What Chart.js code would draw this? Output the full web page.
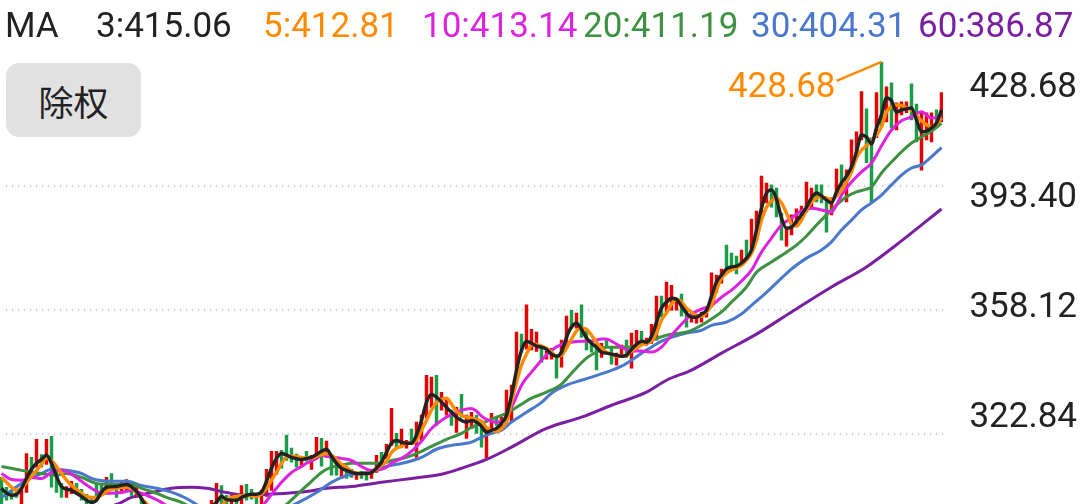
<!DOCTYPE html>
<html>
<head>
<meta charset="utf-8">
<script src="https://cdn.jsdelivr.net/npm/chart.js@4.4.0/dist/chart.umd.min.js"></script>
<style>
  html, body { margin: 0; padding: 0; background: #fff; }
  #wrap { position: relative; width: 1080px; height: 504px; overflow: hidden; }
  #kline { position: absolute; left: 0; top: 0; }
  .ma { position: absolute; top: 6px; font: 35px Roboto, sans-serif; line-height: 40px; white-space: nowrap; }
  #btn { position: absolute; left: 6px; top: 63px; width: 135px; height: 74px; border-radius: 13px;
         background: #e1e1e1; color: #222; font: 35px "Noto Sans CJK SC", sans-serif;
         display: flex; align-items: center; justify-content: center; }
</style>
</head>
<body>
<div id="wrap">
  <canvas id="kline" width="1080" height="504"></canvas>
  <div id="header"></div>
  <div id="btn">除权</div>
</div>
<script>
// Partie données : bougies (ouverture / clôture), une par séance
const openP = [
  310.6, 307.8, 306.9, 306.3, 302.4, 306.3, 316.3, 313.5, 317.1, 314.3,
  322.3, 312.6, 308.9, 304.9, 306.0, 308.9, 307.2, 305.8, 304.9, 308.6,
  308.9, 306.9, 311.7, 308.0, 306.3, 306.6, 309.2, 304.9, 305.0, 301.5,
  297.0, 299.0, 297.0, 294.5, 296.0, 298.5, 296.0, 298.5, 300.5, 298.0,
  300.5, 302.0, 302.4, 302.4, 308.3, 305.5, 302.4, 305.5, 302.4, 308.6,
  307.2, 305.5, 302.4, 305.2, 306.9, 311.5, 318.3, 322.6, 318.9, 317.2,
  314.0, 318.0, 312.9, 316.3, 321.7, 316.3, 316.3, 314.6, 310.3, 312.6,
  312.9, 310.0, 312.3, 311.7, 310.3, 312.0, 317.7, 316.0, 319.7, 323.1,
  319.2, 318.9, 324.3, 316.3, 321.1, 327.4, 330.5, 339.6, 329.7, 328.3,
  329.7, 323.4, 334.2, 321.7, 324.5, 328.3, 324.8, 316.0, 324.3, 327.7,
  324.0, 326.0, 326.3, 341.1, 351.3, 347.0, 346.8, 346.4, 347.9, 344.2,
  344.2, 344.8, 341.9, 347.9, 358.1, 353.0, 359.6, 352.7, 349.6, 348.7,
  344.7, 349.6, 347.3, 342.5, 345.3, 349.6, 341.6, 346.8, 352.1, 348.2,
  348.7, 349.6, 362.1, 357.6, 358.1, 358.1, 362.7, 358.7, 354.7, 354.4,
  354.7, 356.1, 359.0, 363.2, 365.8, 376.6, 374.3, 373.5, 370.9, 378.0,
  374.3, 378.0, 385.2, 388.6, 393.7, 392.8, 385.7, 376.3, 379.5, 382.3,
  384.0, 386.0, 387.1, 393.7, 393.7, 388.9, 385.2, 390.8, 399.4, 388.9,
  397.4, 401.4, 406.5, 415.3, 407.1, 407.1, 428.68, 411.6, 422.7, 409.3,
  413.6, 414.2, 422.4, 416.7, 397.9, 406.5, 405.9, 415.0, 411.6
];
const closeP = [
  302.4, 304.1, 304.4, 304.9, 307.8, 317.4, 311.2, 321.4, 313.5, 321.4,
  307.8, 306.3, 304.9, 308.0, 309.5, 306.3, 304.1, 302.4, 300.6, 304.6,
  305.8, 310.6, 307.8, 304.9, 309.2, 310.0, 305.5, 307.8, 301.0, 298.0,
  299.5, 296.5, 295.0, 297.0, 298.5, 296.0, 299.0, 300.5, 298.0, 301.0,
  302.0, 300.0, 304.1, 308.9, 302.4, 302.4, 305.5, 302.4, 308.3, 304.1,
  304.4, 302.4, 306.9, 312.9, 318.0, 318.0, 313.2, 315.4, 314.9, 313.5,
  316.0, 315.2, 316.9, 322.0, 313.8, 320.9, 311.2, 311.2, 313.2, 310.3,
  310.6, 312.0, 310.3, 309.8, 312.6, 316.9, 314.6, 320.0, 330.2, 318.9,
  324.3, 321.1, 320.3, 326.3, 328.3, 339.6, 339.1, 325.4, 334.8, 332.5,
  325.4, 330.5, 327.7, 328.3, 329.1, 323.1, 319.2, 324.3, 328.8, 325.4,
  327.7, 335.4, 336.8, 351.9, 346.2, 359.6, 352.7, 351.9, 343.3, 346.5,
  347.3, 338.8, 349.6, 356.4, 353.0, 357.3, 350.4, 346.8, 346.2, 341.1,
  348.7, 347.6, 342.8, 345.9, 348.2, 344.7, 351.6, 352.4, 348.2, 350.2,
  354.1, 362.1, 356.1, 366.1, 365.2, 361.5, 356.4, 353.3, 357.3, 357.0,
  357.6, 359.0, 368.7, 368.1, 369.8, 369.5, 369.5, 368.4, 375.2, 372.9,
  384.0, 386.3, 396.2, 394.2, 387.4, 384.6, 378.0, 381.7, 385.2, 386.9,
  387.7, 394.5, 392.8, 388.9, 388.6, 380.3, 390.0, 398.2, 393.1, 398.0,
  406.5, 408.8, 420.2, 400.0, 388.6, 419.9, 410.2, 421.6, 409.9, 417.0,
  417.3, 417.3, 412.2, 405.9, 414.5, 414.2, 414.2, 410.2, 419.9
];

// Moyennes mobiles : [séance, valeur]
const ma3 = [[0,307.5],[1,306.1],[2,305.5],[3,305.8],[4,307.5],[5,310.3],[6,312.9],[7,314.6],[8,315.7],[9,316.9],[10,314.6],[11,310.9],[12,308.0],[14,306.9],[16,305.2],[18,303.5],[19,304.1],[20,306.4],[21,307.8],[23,308.0],[25,308.6],[27,306.6],[29,302.4],[31,300.0],[34,297.0],[37,298.5],[40,300.5],[42,302.4],[43,303.5],[44,305.2],[45,304.3],[47,304.1],[48,304.9],[50,305.8],[51,305.8],[52,306.4],[53,309.5],[54,313.2],[55,316.0],[56,317.4],[58,316.3],[60,315.7],[61,316.0],[62,316.3],[63,317.1],[64,318.0],[65,318.6],[66,316.6],[67,314.6],[68,313.2],[69,312.6],[71,311.7],[73,311.7],[74,312.0],[75,313.2],[76,314.9],[77,317.7],[78,320.3],[79,321.1],[80,320.6],[81,320.3],[82,320.3],[83,322.6],[84,326.8],[85,332.0],[86,334.2],[87,333.4],[88,332.0],[89,330.5],[90,329.1],[91,327.7],[92,326.8],[93,326.3],[94,326.8],[95,326.3],[96,325.1],[97,323.4],[98,324.0],[99,324.5],[100,326.0],[101,328.2],[102,333.9],[103,341.1],[104,346.7],[105,349.3],[106,348.7],[107,347.9],[108,347.6],[109,347.0],[110,345.6],[111,345.0],[112,346.2],[113,350.4],[114,353.3],[115,354.4],[116,352.7],[117,350.2],[118,348.7],[119,347.6],[120,346.2],[121,345.9],[122,345.6],[123,345.3],[124,345.0],[125,345.3],[126,347.0],[127,348.4],[128,349.3],[129,349.0],[130,350.7],[131,354.7],[132,358.7],[133,360.4],[134,361.5],[135,361.2],[136,359.3],[137,357.3],[138,356.1],[139,356.1],[140,357.0],[141,358.1],[142,362.1],[143,366.1],[144,368.1],[145,369.8],[146,370.4],[147,370.6],[148,371.5],[149,372.9],[150,375.2],[151,380.9],[152,387.1],[153,391.4],[154,392.3],[155,389.7],[156,384.3],[157,381.4],[158,381.7],[159,383.4],[160,385.2],[161,387.4],[162,390.0],[163,391.4],[164,390.6],[165,389.4],[166,388.6],[167,391.7],[168,394.3],[169,396.2],[170,398.8],[171,403.1],[172,407.9],[173,407.3],[174,405.4],[175,409.9],[176,413.6],[177,418.4],[178,417.6],[179,414.4],[180,415.0],[181,415.3],[182,415.6],[183,412.2],[184,408.8],[185,409.0],[186,409.9],[187,411.3],[188,415.06]];
const ma5 = [[0,310.6],[1,309.2],[2,307.8],[3,306.9],[4,307.5],[5,309.2],[6,310.9],[7,312.6],[8,314.3],[9,316.0],[10,315.4],[11,313.7],[12,311.7],[13,309.8],[14,308.3],[15,307.2],[16,306.1],[17,305.2],[18,304.9],[19,304.9],[20,305.5],[21,306.6],[22,307.2],[23,307.5],[24,307.8],[25,307.8],[26,307.5],[27,306.4],[28,304.6],[29,303.2],[30,301.8],[33,298.0],[36,297.5],[39,299.0],[42,300.8],[44,302.4],[45,304.3],[46,304.9],[47,305.2],[49,305.5],[51,305.2],[52,305.8],[53,307.5],[54,309.8],[55,312.0],[56,314.6],[57,316.3],[58,316.6],[60,316.3],[62,316.0],[63,316.6],[64,317.1],[65,317.4],[66,316.9],[67,315.7],[68,314.3],[69,313.5],[70,312.3],[72,311.7],[74,312.0],[75,312.9],[76,314.0],[77,315.2],[78,317.7],[79,318.9],[80,319.4],[81,320.3],[82,320.3],[83,321.1],[84,324.0],[85,326.8],[86,329.7],[87,331.9],[88,332.8],[89,333.1],[90,331.4],[91,329.4],[92,328.3],[93,327.7],[94,327.4],[95,327.1],[96,326.5],[97,324.8],[98,324.0],[99,323.7],[100,324.5],[101,326.3],[102,331.9],[103,337.6],[104,342.5],[105,345.6],[106,348.2],[107,348.4],[108,347.9],[109,347.3],[110,346.2],[111,345.0],[112,345.3],[113,347.3],[114,349.9],[115,352.2],[116,353.0],[117,352.7],[118,351.0],[119,349.0],[120,347.3],[121,346.2],[122,345.6],[123,345.0],[124,345.0],[125,345.3],[126,346.5],[127,347.3],[128,348.2],[129,348.7],[130,349.3],[131,351.6],[132,355.3],[133,357.3],[134,359.8],[135,361.2],[136,360.4],[137,358.7],[138,357.6],[139,356.4],[140,356.4],[141,357.6],[142,359.5],[143,363.8],[144,367.2],[145,368.6],[146,369.5],[147,370.1],[148,370.9],[149,372.3],[150,374.3],[151,378.0],[152,383.7],[153,387.4],[154,389.1],[155,390.0],[156,388.6],[157,385.7],[158,382.6],[159,382.0],[160,383.7],[161,386.6],[162,388.8],[163,390.0],[164,390.3],[165,390.0],[166,389.4],[167,390.6],[168,392.3],[169,394.5],[170,397.4],[171,401.4],[172,403.6],[173,404.8],[174,406.2],[175,407.9],[176,410.2],[177,414.4],[178,415.9],[179,416.4],[180,416.2],[181,415.6],[182,415.0],[183,413.3],[184,411.9],[185,410.8],[186,410.2],[187,411.0],[188,412.81]];
const ma10 = [[0,311.7],[2,310.0],[4,309.8],[6,310.6],[8,310.3],[10,312.0],[12,312.6],[14,311.5],[16,309.5],[18,307.5],[20,306.1],[22,306.1],[24,306.3],[26,306.9],[28,306.1],[30,304.9],[32,303.5],[36,299.5],[40,298.0],[44,298.5],[48,300.5],[51,302.5],[52,302.6],[54,305.8],[56,309.2],[58,312.0],[60,313.7],[61,314.6],[63,316.0],[64,316.9],[66,316.3],[68,316.0],[70,315.4],[72,313.7],[74,312.6],[76,312.9],[77,313.5],[78,314.6],[80,316.0],[82,318.0],[84,320.9],[86,324.5],[88,326.8],[90,328.5],[92,329.7],[94,330.2],[95,329.4],[96,328.0],[97,327.1],[99,326.3],[100,326.5],[101,327.7],[102,330.5],[103,333.6],[104,336.8],[106,340.5],[108,343.9],[110,346.7],[112,348.4],[114,349.0],[116,349.3],[118,349.3],[120,349.9],[121,349.9],[122,349.3],[124,347.6],[126,346.5],[128,346.5],[130,346.2],[132,347.6],[134,351.0],[136,354.1],[138,357.0],[140,358.4],[142,359.5],[144,361.8],[146,363.8],[148,366.4],[150,369.5],[152,374.6],[154,378.6],[156,382.3],[158,384.3],[160,386.3],[162,387.1],[164,386.6],[166,386.0],[167,388.0],[168,390.8],[170,394.5],[172,397.4],[174,399.9],[175,402.2],[176,404.8],[178,409.3],[180,411.9],[182,413.0],[184,414.5],[186,412.7],[188,413.14]];
const ma20 = [[0,313.7],[4,312.6],[8,311.7],[11,311.2],[13,311.7],[16,310.6],[19,308.9],[22,308.6],[26,308.6],[28,307.5],[31,306.1],[33,304.9],[36,303.5],[40,300.5],[45,298.5],[50,298.0],[54,300.0],[57,302.9],[60,306.9],[62,309.5],[64,312.0],[66,313.5],[68,314.0],[70,314.6],[73,314.6],[76,314.6],[78,315.4],[81,316.3],[84,318.0],[86,319.4],[89,321.4],[92,323.1],[94,324.8],[97,326.5],[99,327.7],[101,328.8],[104,331.4],[106,333.1],[109,334.8],[112,337.1],[114,340.2],[117,344.5],[119,346.2],[121,347.6],[124,347.6],[126,347.6],[128,348.7],[130,349.6],[133,351.0],[136,351.6],[138,352.4],[141,354.7],[144,357.6],[146,360.4],[149,364.7],[151,368.9],[154,371.8],[157,374.6],[159,376.6],[161,379.2],[163,382.3],[165,385.2],[167,388.0],[169,390.3],[171,391.7],[173,392.5],[174,393.1],[176,397.1],[178,400.2],[180,403.1],[182,405.6],[184,407.3],[186,409.0],[188,411.19]];
const ma30 = [[0,304.9],[2,306.9],[5,309.8],[8,311.7],[10,312.9],[13,312.6],[16,311.7],[18,310.3],[22,309.5],[25,309.5],[28,308.3],[31,307.5],[34,306.4],[37,304.6],[39,302.9],[43,300.0],[48,298.5],[53,299.5],[56,301.5],[59,303.2],[63,306.3],[66,309.2],[70,311.5],[72,311.7],[77,313.7],[81,314.9],[84,316.3],[87,318.6],[90,319.7],[94,320.6],[96,322.0],[98,323.1],[100,324.0],[102,326.3],[105,329.1],[108,331.9],[110,334.5],[113,336.8],[116,338.2],[118,339.1],[121,340.5],[124,342.2],[126,343.9],[128,345.9],[130,347.6],[132,349.3],[134,350.4],[137,351.6],[140,352.4],[142,353.8],[145,354.7],[148,357.0],[150,359.5],[153,363.2],[156,367.2],[158,369.8],[161,372.9],[164,375.2],[166,377.5],[168,380.9],[170,383.7],[172,386.6],[174,388.6],[176,390.8],[178,393.7],[180,396.5],[182,398.5],[184,399.4],[186,401.7],[188,404.31]];
const ma60 = [[0,296.0],[8,298.0],[16,300.5],[23,302.9],[26,304.9],[30,306.3],[34,307.5],[38,307.8],[41,307.5],[45,306.3],[49,305.5],[53,305.8],[57,306.1],[61,306.6],[65,307.5],[70,308.0],[76,309.2],[82,310.3],[88,311.5],[92,313.2],[97,315.7],[102,319.2],[109,324.5],[116,327.7],[122,331.1],[129,334.8],[133,338.2],[138,341.1],[144,345.9],[151,351.3],[158,357.6],[166,364.7],[173,370.4],[180,377.8],[188,386.87]];

// Axe des prix
const priceTicks = [428.68, 393.40, 358.12, 322.84];
const priceMin = 303.04;

// Séries MA : période, données, couleur
const maSeries = [
  { period: 3,  data: ma3,  color: "#222222" },
  { period: 5,  data: ma5,  color: "#ff8a00" },
  { period: 10, data: ma10, color: "#dd22e0" },
  { period: 20, data: ma20, color: "#3d9140" },
  { period: 30, data: ma30, color: "#4a78cc" },
  { period: 60, data: ma60, color: "#7b1fa2" }
];

// Partie en-tête (texte HTML)
const headerLeft = [96, 263, 422, 583, 751, 918];
const header = document.getElementById("header");
const maLabel = document.createElement("span");
maLabel.className = "ma";
maLabel.style.left = "5px";
maLabel.style.color = "#222";
maLabel.textContent = "MA";
header.appendChild(maLabel);
maSeries.forEach((s, i) => {
  const span = document.createElement("span");
  span.className = "ma";
  span.style.left = headerLeft[i] + "px";
  span.style.color = s.color;
  span.textContent = s.period + ":" + s.data[s.data.length - 1][1].toFixed(2);
  header.appendChild(span);
});

// Plugin : grille pointillée, étiquettes de prix, repère du plus haut
const priceAxisPlugin = {
  id: "priceAxis",
  beforeDatasetsDraw(chart) {
    const { ctx, chartArea, scales } = chart;
    ctx.save();
    ctx.strokeStyle = "#d2d2d2";
    ctx.lineWidth = 2.5;
    ctx.setLineDash([1.2, 4.8]);
    priceTicks.slice(1).forEach(v => {
      const py = Math.round(scales.y.getPixelForValue(v));
      ctx.beginPath();
      ctx.moveTo(chartArea.left + 6, py);
      ctx.lineTo(chartArea.right, py);
      ctx.stroke();
    });
    ctx.restore();
  },
  afterDraw(chart) {
    const { ctx, scales } = chart;
    const shift = [35, 21, 7, -7];
    ctx.save();
    ctx.font = "35px Roboto";
    ctx.fillStyle = "#222";
    ctx.textAlign = "right";
    ctx.textBaseline = "alphabetic";
    priceTicks.forEach((v, i) => {
      ctx.fillText(v.toFixed(2), 1077, scales.y.getPixelForValue(v) + shift[i]);
    });

    // plus haut
    let hiIdx = 0;
    openP.forEach((o, i) => {
      if (Math.max(o, closeP[i]) > Math.max(openP[hiIdx], closeP[hiIdx])) hiIdx = i;
    });
    const hiVal = Math.max(openP[hiIdx], closeP[hiIdx]);
    const px = scales.x.getPixelForValue(hiIdx);
    const py = scales.y.getPixelForValue(hiVal);
    ctx.strokeStyle = "#ff8a00";
    ctx.lineWidth = 2.5;
    ctx.beginPath();
    ctx.moveTo(px - 45, py + 19);
    ctx.lineTo(px, py);
    ctx.stroke();
    ctx.fillStyle = "#ff8a00";
    ctx.fillText(hiVal.toFixed(2), px - 46, py + 35);
    ctx.restore();
  }
};

const candles = openP.map((o, i) => ({ x: i, y: [o, closeP[i]] }));
const candleColors = openP.map((o, i) => closeP[i] >= o ? "#e60000" : "#1a9c48");

const datasets = [{
  type: "bar",
  data: candles,
  backgroundColor: candleColors,
  barThickness: 2.8,
  minBarLength: 2,
  order: 10
}];
maSeries.slice().reverse().forEach((s, i) => {
  datasets.push({
    type: "line",
    data: s.data.map(p => ({ x: p[0], y: p[1] })),
    borderColor: s.color,
    borderWidth: s.period <= 5 ? 3.4 : 3,
    pointRadius: 0,
    cubicInterpolationMode: "monotone",
    order: 6 - i
  });
});

new Chart(document.getElementById("kline").getContext("2d"), {
  type: "bar",
  data: { datasets: datasets },
  options: {
    responsive: false,
    animation: false,
    devicePixelRatio: 1,
    events: [],
    layout: { padding: { top: 61.8, right: 137, left: 0, bottom: 0 } },
    plugins: { legend: { display: false }, tooltip: { enabled: false } },
    scales: {
      x: { type: "linear", min: -0.3, max: 188.3, offset: false, display: false },
      y: { min: priceMin, max: priceTicks[0], display: false }
    }
  },
  plugins: [priceAxisPlugin]
});
</script>
</body>
</html>
